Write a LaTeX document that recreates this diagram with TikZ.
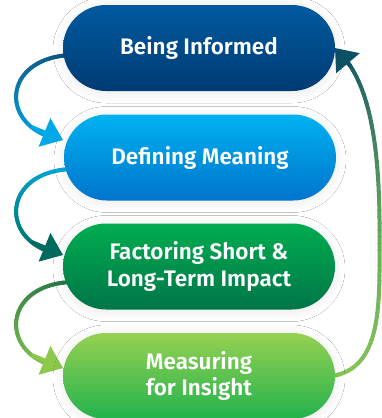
\documentclass[tikz,border=0pt]{standalone}
\usepackage{fontspec}
\setmainfont{Fira Sans}[BoldFont={Fira Sans SemiBold}]
\usetikzlibrary{arrows.meta,shadows.blur}
\definecolor{b1t}{HTML}{005AA0}\definecolor{b1b}{HTML}{003B72}
\definecolor{b2t}{HTML}{00B2F0}\definecolor{b2b}{HTML}{0074CC}
\definecolor{b3t}{HTML}{00AD50}\definecolor{b3b}{HTML}{007548}
\definecolor{b4t}{HTML}{96D152}\definecolor{b4b}{HTML}{22B24C}
\definecolor{a1s}{HTML}{0F4D78}\definecolor{a1e}{HTML}{00A8E8}
\definecolor{a2s}{HTML}{00B0E8}\definecolor{a2e}{HTML}{006A5C}
\definecolor{a3s}{HTML}{1B7048}\definecolor{a3e}{HTML}{8CC84B}
\definecolor{r1}{HTML}{8CCB55}\definecolor{r2}{HTML}{6FAF5E}\definecolor{r3}{HTML}{0E5066}
\tikzset{
  stage/.style={rounded corners=43pt, minimum width=272pt, minimum height=86pt,
    inner sep=0pt, text=white, align=center,
    font=\bfseries\fontsize{22.5}{26.5}\selectfont,
    blur shadow={shadow xshift=0pt, shadow yshift=-2pt, shadow blur radius=10pt,
      shadow blur steps=16, shadow opacity=9}},
  gradline/.style={line width=4pt, line cap=round},
  headline/.style={line width=4pt, -{Triangle[length=20pt,width=30pt]}}
}
% #1 start #2 c1 #3 c2 #4 end #5 colA #6 colB #7 prefix
\newcommand\gradbez[7]{%
  \foreach \k in {0,...,40}{\path #1 .. controls #2 and #3 .. #4 coordinate[pos=\k/40] (#7\k);}%
  \foreach \k in {1,...,37}{%
    \pgfmathtruncatemacro\jj{\k-1}%
    \pgfmathtruncatemacro\pc{round(100*\k/40)}%
    \draw[gradline, color=#6!\pc!#5] (#7\jj) -- (#7\k);}%
}
\begin{document}
\begin{tikzpicture}[x=1pt,y=-1pt]
\useasboundingbox[fill=white] (0,0) rectangle (381,418);
% connectors (drawn under the boxes)
\coordinate (s1) at (80,55);   \coordinate (e1) at (63,140);
\coordinate (s2) at (80,169);  \coordinate (e2) at (63,255);
\coordinate (s3) at (80,282);  \coordinate (e3) at (63,368);
\coordinate (s4) at (320,377); \coordinate (m4) at (379.5,250); \coordinate (e4) at (335,48);

\gradbez{(s1)}{(0,52)}{(-4,130)}{(e1)}{a1s}{a1e}{p}
\draw[headline, a1e] (p32) -- (e1);
\gradbez{(s2)}{(0,166)}{(-4,245)}{(e2)}{a2s}{a2e}{q}
\draw[headline, a2e] (q32) -- (e2);
\gradbez{(s3)}{(0,279)}{(-4,358)}{(e3)}{a3s}{a3e}{u}
\draw[headline, a3e] (u32) -- (e3);
\gradbez{(s4)}{(378,377)}{(380,320)}{(m4)}{r1}{r2}{v}
\draw[gradline, r2] (v37) -- (v40);
\gradbez{(m4)}{(380.5,160)}{(374,82)}{(e4)}{r2}{r3}{w}
\draw[headline, r3] (w34) -- (e4);

% stages
\node[stage, top color=b1t, bottom color=b1b] (n1) at (199,48) {Being Informed};
\node[stage, top color=b2t, bottom color=b2b] (n2) at (200,157.5) {Defining Meaning};
\node[stage, top color=b3t, bottom color=b3b] (n3) at (199,266.5) {Factoring Short \&\\Long-Term Impact};
\node[stage, top color=b4t, bottom color=b4b] (n4) at (199,376) {Measuring\\for Insight};
\end{tikzpicture}
\end{document}
